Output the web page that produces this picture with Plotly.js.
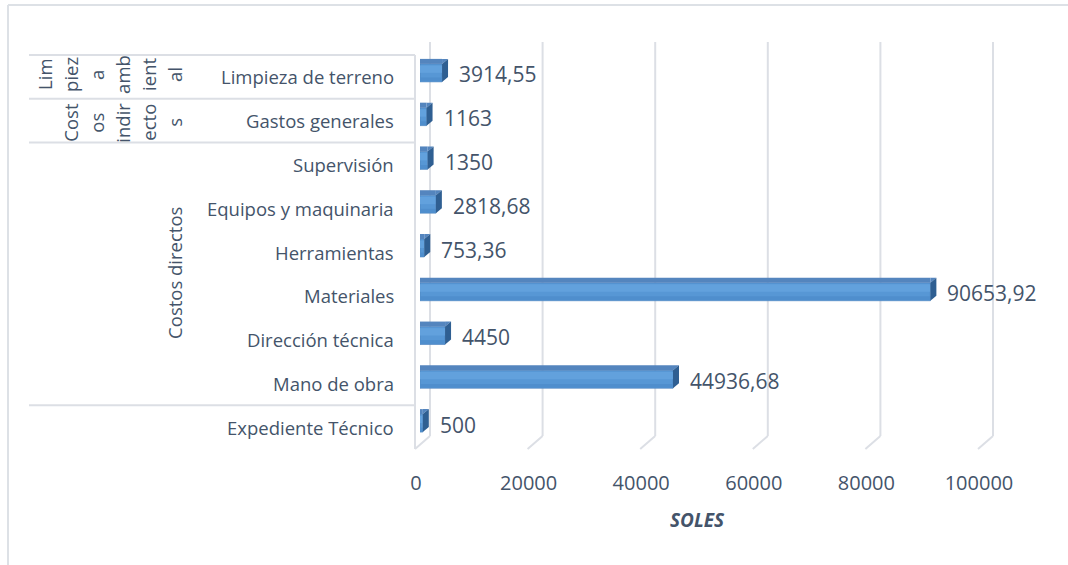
<!DOCTYPE html>
<html><head><meta charset="utf-8">
<script src="https://cdn.plot.ly/plotly-3.0.1.min.js"></script>
<style>html,body{margin:0;padding:0;background:#fff}#chart{width:1068px;height:565px}</style>
</head><body><div id="chart"></div>
<script>
// ---- data ----
const categories = ["Limpieza de terreno","Gastos generales","Supervisión","Equipos y maquinaria","Herramientas","Materiales","Dirección técnica","Mano de obra","Expediente Técnico"];
const values = [3914.55,1163,1350,2818.68,753.36,90653.92,4450,44936.68,500];
const groupLimpiezaLines = ["Lim","piez","a","amb","ient","al"];
const groupIndirectosLines = ["Cost","os","indir","ecto","s"];
const groupDirectos = "Costos directos";
const xTickVals = [0,20000,40000,60000,80000,100000];
const xTitle = "SOLES";

// ---- layout geometry ----
const W = 1068, H = 565, L = 420, R = 18, T = 51, B = 120;
const PW = W - L - R, PH = H - T - B;
const xMax = 111900;
const px = x => (x - L) / PW;           // pixel -> paper x
const py = y => (H - B - y) / PH;        // pixel -> paper y
const txt = '#44546A', grid = '#DCDFE5';
const FONT = 'Open Sans, sans-serif';

const fmt = v => String(v).replace('.', ',');

const traces = [
  {type:'bar', orientation:'h', x: values, y: categories, width:0.41,
   marker:{color:'#5797D5', line:{color:'#4A80BA', width:0.6}}, hoverinfo:'skip'},
  {type:'bar', orientation:'h', x: values, y: categories, width:0.17, offset:-0.17,
   marker:{color:'#62A1DD', line:{width:0}}, hoverinfo:'skip'},
  {type:'bar', orientation:'h', x: values, y: categories, width:0.09, offset:0.105,
   marker:{color:'#4F8ECD', line:{width:0}}, hoverinfo:'skip'}
];

const shapes = [];
// frame
shapes.push({type:'line', xref:'paper', yref:'paper', x0:px(8), x1:px(8), y0:py(5), y1:py(565), line:{color:'#DDE1E6', width:2}});
shapes.push({type:'line', xref:'paper', yref:'paper', x0:px(8), x1:px(1068), y0:py(5), y1:py(5), line:{color:'#DDE1E6', width:2}});
// back-wall gridlines and floor diagonals
xTickVals.forEach(t => {
  shapes.push({type:'line', layer:'below', xref:'paper', xsizemode:'pixel', xanchor:t/xMax, x0:10, x1:10,
    yref:'paper', ysizemode:'pixel', yanchor:0, y0:9, y1:403, line:{color:grid, width:2}});
  shapes.push({type:'line', layer:'below', xref:'paper', xsizemode:'pixel', xanchor:t/xMax, x0:10, x1:-5,
    yref:'paper', ysizemode:'pixel', yanchor:0, y0:9, y1:-4, line:{color:grid, width:2}});
});
// front category axis line
shapes.push({type:'line', xref:'paper', xsizemode:'pixel', xanchor:0, x0:-5, x1:-5,
  yref:'paper', ysizemode:'pixel', yanchor:0, y0:-4, y1:H-B-55, line:{color:grid, width:2}});
// category dividers (front plane)
[0,1,2,8,9].forEach(k => {
  shapes.push({type:'line', xref:'paper', x0:px(29), x1:px(415), yref:'y', ysizemode:'pixel', yanchor:k-0.5, y0:-4, y1:-4,
    line:{color:grid, width:2}});
});
// 3D bar faces
values.forEach((v,i) => {
  shapes.push({type:'rect', xref:'x', x0:0, x1:v, yref:'y', ysizemode:'pixel', yanchor:i, y0:9, y1:14,
    fillcolor:'#5485BE', line:{width:0}});
  shapes.push({type:'path', xref:'x', xsizemode:'pixel', xanchor:v, yref:'y', ysizemode:'pixel', yanchor:i,
    path:'M0,9 L6,14 L0,14 Z', fillcolor:'#5485BE', line:{width:0}});
  shapes.push({type:'path', xref:'x', xsizemode:'pixel', xanchor:v, yref:'y', ysizemode:'pixel', yanchor:i,
    path:'M0,-9 L0,9 L6,14 L6,-4 Z', fillcolor:'#2F5F92', line:{width:0}});
});

const annotations = [];
categories.forEach((c,i) => {
  annotations.push({xref:'paper', x:px(396), xanchor:'right', yref:'y', y:i, yshift:-4, text:c, showarrow:false,
    font:{family:FONT, size:18.5, color:txt}});
  annotations.push({xref:'x', x:values[i], xanchor:'left', xshift:15, yref:'y', y:i, yshift:-1.5, text:fmt(values[i]),
    showarrow:false, font:{family:FONT, size:21, color:txt}});
});
const lineX1 = [45,71,97,123,149,175];
groupLimpiezaLines.forEach((s,j) => annotations.push({xref:'paper', x:px(lineX1[j]), xanchor:'center', yref:'y', y:0, yshift:-2,
  text:s, textangle:-90, showarrow:false, font:{family:FONT, size:18.5, color:txt}}));
const lineX2 = [71,97,123,149,175];
groupIndirectosLines.forEach((s,j) => annotations.push({xref:'paper', x:px(lineX2[j]), xanchor:'center', yref:'y', y:1, yshift:-6,
  text:s, textangle:-90, showarrow:false, font:{family:FONT, size:18.5, color:txt}}));
annotations.push({xref:'paper', x:px(175), xanchor:'center', yref:'y', y:4.5, yshift:-3, text:groupDirectos, textangle:-90,
  showarrow:false, font:{family:FONT, size:18.5, color:txt}});
annotations.push({xref:'paper', x:px(697), xanchor:'center', yref:'paper', y:py(520), yanchor:'middle', text:xTitle, showarrow:false,
  font:{family:FONT, size:19, color:txt, weight:700, style:'italic'}});

const layout = {
  width:W, height:H, margin:{l:L, r:R, t:T, b:B, pad:0},
  paper_bgcolor:'#fff', plot_bgcolor:'rgba(0,0,0,0)', showlegend:false, barmode:'overlay',
  font:{family:FONT, color:txt},
  xaxis:{range:[0,xMax], tickvals:xTickVals, tickformat:'d', showgrid:false, zeroline:false, showline:false, ticks:'',
    tickfont:{family:FONT, size:20, color:txt}, ticklabelstandoff:24, ticklabelshift:-4, fixedrange:true},
  yaxis:{type:'category', categoryorder:'array', categoryarray:categories, range:[8.5,-0.5], showticklabels:false,
    showgrid:false, zeroline:false, showline:false, ticks:'', fixedrange:true},
  shapes, annotations
};
Plotly.newPlot('chart', traces, layout, {displayModeBar:false, staticPlot:true});
</script></body></html>
